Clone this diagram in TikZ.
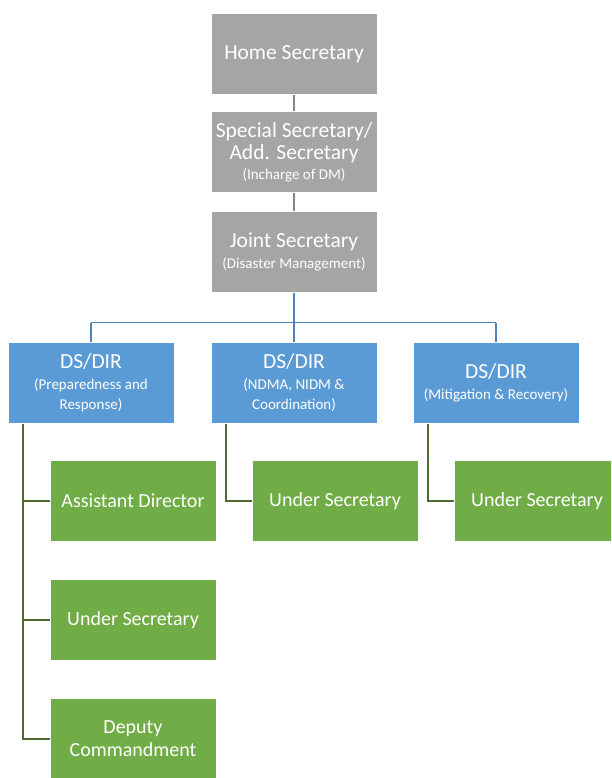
\documentclass[tikz,border=0pt]{standalone}
\usepackage{fontspec}
\setmainfont{Carlito}
\usepackage{tikz}

\definecolor{grayfill}{HTML}{A5A5A5}
\definecolor{bluefill}{HTML}{5B9BD5}
\definecolor{greenfill}{HTML}{70AD47}
\newcommand{\bigtxt}{\fontsize{21.5}{24}\selectfont}
\newcommand{\smltxt}{\fontsize{15}{17}\selectfont}

\begin{document}
\begin{tikzpicture}[x=1pt,y=-1pt,
        line width=1.2pt,
        box/.style={draw=none, text=white, align=center,
                        minimum width=165pt, minimum height=80pt,
                        inner sep=2pt, font=\bigtxt},
        gr/.style={box, fill=grayfill},
        bl/.style={box, fill=bluefill},
        gn/.style={box, fill=greenfill, font=\fontsize{20}{23}\selectfont}]
    \useasboundingbox (0,0) rectangle (611,778);
    \clip (0,0) rectangle (611,778);
    \node[gr] (hs) at (294,54) {Home Secretary};
    \node[gr] (ss) at (294,152) {Special Secretary/\\[-2pt]Add. Secretary\\[-4pt]{\smltxt(Incharge of DM)}};
    \node[gr] (js) at (294,252) {Joint Secretary\\[-3pt]{\smltxt(Disaster Management)}};
    \node[bl] (d1) at (91,383) {DS/DIR\\[-3pt]{\smltxt(Preparedness and}\\[-4pt]{\smltxt Response)}};
    \node[bl] (d2) at (294,383) {DS/DIR\\[-3pt]{\smltxt(NDMA, NIDM \&}\\[-4pt]{\smltxt Coordination)}};
    \node[bl] (d3) at (496,383) {DS/DIR\\[-3pt]{\smltxt(Mitigation \& Recovery)}};
    \node[gn] (ad) at (133,501) {Assistant Director};
    \node[gn] (us1) at (133,620) {Under Secretary};
    \node[gn] (dc) at (133,739) {Deputy\\Commandment};
    \node[gn] (us2) at (335,501) {Under Secretary};
    \node[gn] (us3) at (537,501) {Under Secretary};
    % links
    \draw[grayfill!80!black] (hs) -- (ss) (ss) -- (js);
    \draw[bluefill!85!black] (js.south) -- ++(0,30) coordinate (bus)
        (bus -| d1.north) -- (bus -| d3.north)
        (bus -| d1.north) -- (d1.north)
        (bus) -- (d2.north)
        (bus -| d3.north) -- (d3.north);
    \draw[greenfill!60!black!90!brown]
        ([xshift=15]d1.south west) |- (dc.west)
        ([xshift=15]d1.south west) |- (ad.west)
        ([xshift=15]d1.south west) |- (us1.west)
        ([xshift=15]d2.south west) |- (us2.west)
        ([xshift=15]d3.south west) |- (us3.west);
\end{tikzpicture}
\end{document}
